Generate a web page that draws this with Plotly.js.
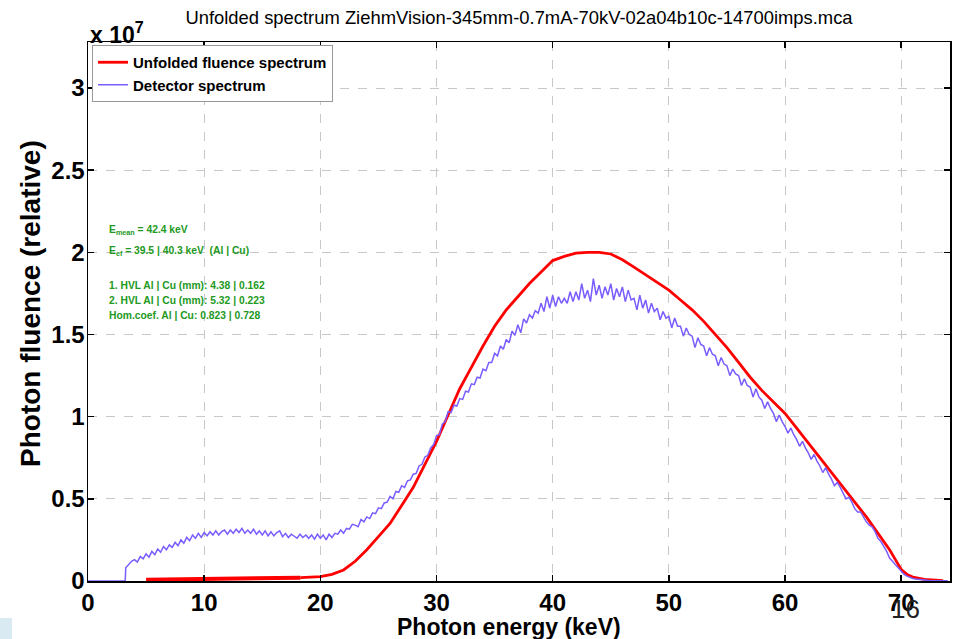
<!DOCTYPE html>
<html>
<head>
<meta charset="utf-8">
<script src="https://cdn.plot.ly/plotly-3.0.1.min.js"></script>
<style>html,body{margin:0;padding:0;background:#fff;}#chart{width:953px;height:639px;}</style>
</head>
<body>
<div id="chart"></div>
<script>
// ---- Data (fluence values in units of 1e7) ----
// Detector spectrum: leading zero segment
const detZeroE = [0, 3.2];
const detZeroV = [0, 0];
// Detector spectrum binned every 0.25 keV starting at 3.25 keV
const detStartE = 3.25;
const detStepE = 0.25;
const detV = [
  0.08, 0.10, 0.12,
  0.13, 0.115, 0.15, 0.135,
  0.165, 0.145, 0.18, 0.16,
  0.195, 0.175, 0.21, 0.19,
  0.22, 0.205, 0.235, 0.215,
  0.25, 0.23, 0.265, 0.245,
  0.28, 0.26, 0.29, 0.265,
  0.295, 0.275, 0.30, 0.28,
  0.305, 0.28, 0.30, 0.31,
  0.285, 0.31, 0.29, 0.315,
  0.295, 0.32, 0.29, 0.31,
  0.29, 0.315, 0.285, 0.305,
  0.28, 0.305, 0.275, 0.30,
  0.275, 0.295, 0.305, 0.27,
  0.29, 0.265, 0.285, 0.27,
  0.26, 0.285, 0.265, 0.28,
  0.26, 0.28, 0.255, 0.285,
  0.26, 0.28, 0.25, 0.285,
  0.265, 0.29, 0.285, 0.31,
  0.29, 0.32, 0.315, 0.345,
  0.34, 0.33, 0.375, 0.36,
  0.39, 0.38, 0.415, 0.41,
  0.445, 0.44, 0.475, 0.48,
  0.515, 0.50, 0.545, 0.54,
  0.58, 0.57, 0.61, 0.615,
  0.65, 0.655, 0.70, 0.71,
  0.755, 0.765, 0.81, 0.83,
  0.885, 0.89, 0.955, 0.97,
  1.03, 1.025, 1.07, 1.065,
  1.11, 1.105, 1.155, 1.15,
  1.20, 1.195, 1.24, 1.235,
  1.29, 1.28, 1.33, 1.33,
  1.385, 1.37, 1.43, 1.41,
  1.47, 1.45, 1.52, 1.495,
  1.56, 1.51, 1.595, 1.57,
  1.62, 1.60, 1.645, 1.63,
  1.69, 1.64, 1.73, 1.66,
  1.74, 1.67, 1.73, 1.69,
  1.72, 1.69, 1.76, 1.70,
  1.76, 1.71, 1.81, 1.72,
  1.77, 1.70, 1.84, 1.74,
  1.80, 1.72, 1.79, 1.74,
  1.81, 1.71, 1.78, 1.73,
  1.79, 1.70, 1.77, 1.71,
  1.72, 1.65, 1.74, 1.66,
  1.71, 1.63, 1.69, 1.64,
  1.66, 1.59, 1.64, 1.60,
  1.61, 1.54, 1.60, 1.55,
  1.55, 1.49, 1.54, 1.50,
  1.49, 1.42, 1.48, 1.44,
  1.43, 1.37, 1.42, 1.38,
  1.37, 1.31, 1.36, 1.32,
  1.31, 1.25, 1.29, 1.26,
  1.25, 1.19, 1.23, 1.19,
  1.18, 1.12, 1.17, 1.12,
  1.10, 1.05, 1.09, 1.05,
  1.02, 0.97, 1.01, 0.97,
  0.94, 0.90, 0.93, 0.89,
  0.86, 0.82, 0.85, 0.81,
  0.78, 0.74, 0.77, 0.73,
  0.70, 0.66, 0.69, 0.65,
  0.62, 0.58, 0.60, 0.57,
  0.53, 0.50, 0.51, 0.48,
  0.44, 0.42, 0.42, 0.39,
  0.36, 0.34, 0.33, 0.30,
  0.26, 0.24, 0.21, 0.18,
  0.14, 0.12, 0.10, 0.075,
  0.055, 0.04, 0.03, 0.02,
  0.015, 0.012, 0.009, 0.007,
  0.005, 0.004, 0.003, 0.003,
  0.002, 0.002, 0.001, 0.001,
  0.001
];
// Unfolded fluence spectrum: low thick segment
const unfLowE = [5, 8, 12, 15, 18.3];
const unfLowV = [0.008, 0.012, 0.015, 0.018, 0.02];
// Unfolded fluence spectrum: main segment
const unfE = [18.3, 19, 20, 21, 22, 23, 24, 25, 26, 27, 28, 29, 30, 31, 32, 33, 34, 35, 36, 37, 38, 39, 40, 41, 42, 43, 44, 45, 46, 47, 48, 49, 50,
  51, 52, 53, 54, 55, 56, 57, 58, 59, 60, 61, 62, 63, 64, 65, 66, 67, 68, 69, 69.5, 70, 70.5, 71, 72, 73, 73.6];
const unfV = [0.02, 0.022, 0.027, 0.04, 0.067, 0.12, 0.19, 0.27, 0.35, 0.46, 0.57, 0.71, 0.85, 1.01, 1.17, 1.30, 1.43, 1.55, 1.65, 1.73, 1.81, 1.88, 1.95, 1.975, 1.995, 2.0, 2.0, 1.99, 1.955, 1.91, 1.865, 1.82, 1.77,
  1.71, 1.65, 1.58, 1.50, 1.42, 1.33, 1.24, 1.16, 1.09, 1.02, 0.93, 0.84, 0.75, 0.66, 0.57, 0.48, 0.39, 0.29, 0.19, 0.13, 0.07, 0.04, 0.024, 0.01, 0.004, 0.002];

const xTicks = [0, 10, 20, 30, 40, 50, 60, 70];
const yTicks = [0, 0.5, 1, 1.5, 2, 2.5, 3];
const yTickText = ['0', '0.5', '1', '1.5', '2', '2.5', '3'];
const infoLines = [
  'E<sub>mean</sub> = 42.4 keV',
  'E<sub>ef</sub> = 39.5 | 40.3 keV  (Al | Cu)',
  '1. HVL Al | Cu (mm): 4.38 | 0.162',
  '2. HVL Al | Cu (mm): 5.32 | 0.223',
  'Hom.coef. Al | Cu: 0.823 | 0.728'
];
const infoY = [0.651, 0.612, 0.549, 0.521, 0.492];

// ---- Build ----
const detE = detZeroE.slice();
const detAll = detZeroV.slice();
for (let i = 0; i < detV.length; i++) { detE.push(detStartE + i * detStepE); detAll.push(detV[i]); }

const FONT = 'Liberation Sans, Arial, sans-serif';
const RED = '#ff0000';
const PURPLE = '#7a5cff';

const traces = [
  {x: unfE, y: unfV, type: 'scatter', mode: 'lines', name: 'Unfolded fluence spectrum',
   line: {color: RED, width: 2.8}},
  {x: detE, y: detAll, type: 'scatter', mode: 'lines', name: 'Detector spectrum',
   line: {color: PURPLE, width: 1.5}},
  {x: unfLowE, y: unfLowV, type: 'scatter', mode: 'lines', showlegend: false,
   line: {color: RED, width: 4}}
];

const L = 88, R = 950, T = 42, B = 581, W = 953, H = 639;
const pw = R - L, ph = B - T;

const annotations = infoLines.map((t, i) => ({
  text: t, xref: 'paper', yref: 'paper', x: (107 - L) / pw, y: infoY[i],
  xanchor: 'left', yanchor: 'middle', showarrow: false,
  font: {family: FONT, size: 10.3, color: '#229922', weight: 'bold'}
}));
annotations.push({
  text: 'x 10<sup>7</sup>', xref: 'paper', yref: 'paper', x: 0, y: (B - 33) / ph,
  xanchor: 'left', yanchor: 'middle', showarrow: false,
  font: {family: FONT, size: 23, color: '#000', weight: 'bold'}
});
annotations.push({
  text: 'Photon energy (keV)', xref: 'paper', yref: 'paper', x: (509 - L) / pw, y: (B - 627) / ph,
  xanchor: 'center', yanchor: 'middle', showarrow: false,
  font: {family: FONT, size: 23, color: '#000', weight: 'bold'}
});
annotations.push({
  text: 'Photon fluence (relative)', xref: 'paper', yref: 'paper', x: (30 - L) / pw, y: (B - 304) / ph,
  xanchor: 'center', yanchor: 'middle', showarrow: false, textangle: -90,
  font: {family: FONT, size: 28, color: '#000', weight: 'bold'}
});
annotations.push({
  text: '16', xref: 'paper', yref: 'paper', x: (905 - L) / pw, y: (B - 609) / ph,
  xanchor: 'center', yanchor: 'middle', showarrow: false,
  font: {family: FONT, size: 26, color: '#222'}
});

const layout = {
  width: W, height: H,
  margin: {l: L, r: W - R, t: T, b: H - B, pad: 0},
  paper_bgcolor: '#fff', plot_bgcolor: '#fff',
  title: {text: 'Unfolded spectrum ZiehmVision-345mm-0.7mA-70kV-02a04b10c-14700imps.mca',
          x: 0.5, xref: 'paper', y: 1 - 18 / H, yanchor: 'middle',
          font: {family: FONT, size: 18.4, color: '#000'}},
  showlegend: true,
  legend: {x: 4 / pw, y: 1 - 3 / ph, xanchor: 'left', yanchor: 'top',
           bgcolor: '#fff', bordercolor: '#999', borderwidth: 1,
           font: {family: FONT, size: 15, color: '#000', weight: 'bold'},
           tracegroupgap: 0, itemwidth: 30},
  xaxis: {range: [0, 74.2], tickvals: xTicks, ticktext: xTicks.map(String),
          showgrid: true, gridcolor: '#c8c8c8', griddash: 'dash', gridwidth: 1,
          zeroline: false, showline: true, linecolor: '#000', linewidth: 1.5, mirror: 'ticks',
          ticks: 'inside', ticklen: 6, tickwidth: 1.5, tickcolor: '#000',
          tickfont: {family: FONT, size: 24, color: '#000', weight: 'bold'}},
  yaxis: {range: [0, 3.28], tickvals: yTicks, ticktext: yTickText,
          showgrid: true, gridcolor: '#c8c8c8', griddash: 'dash', gridwidth: 1,
          zeroline: false, showline: true, linecolor: '#000', linewidth: 1.5, mirror: 'ticks',
          ticks: 'inside', ticklen: 6, tickwidth: 1.5, tickcolor: '#000', ticklabelstandoff: -3,
          tickfont: {family: FONT, size: 24, color: '#000', weight: 'bold'}},
  annotations: annotations,
  shapes: [{type: 'rect', xref: 'paper', yref: 'paper', layer: 'below',
            x0: -L / pw, x1: (12 - L) / pw, y0: (B - 639) / ph, y1: (B - 618) / ph,
            fillcolor: '#d9eaf3', line: {width: 0}}]
};

Plotly.newPlot('chart', traces, layout, {displayModeBar: false, staticPlot: true});
</script>
</body>
</html>
